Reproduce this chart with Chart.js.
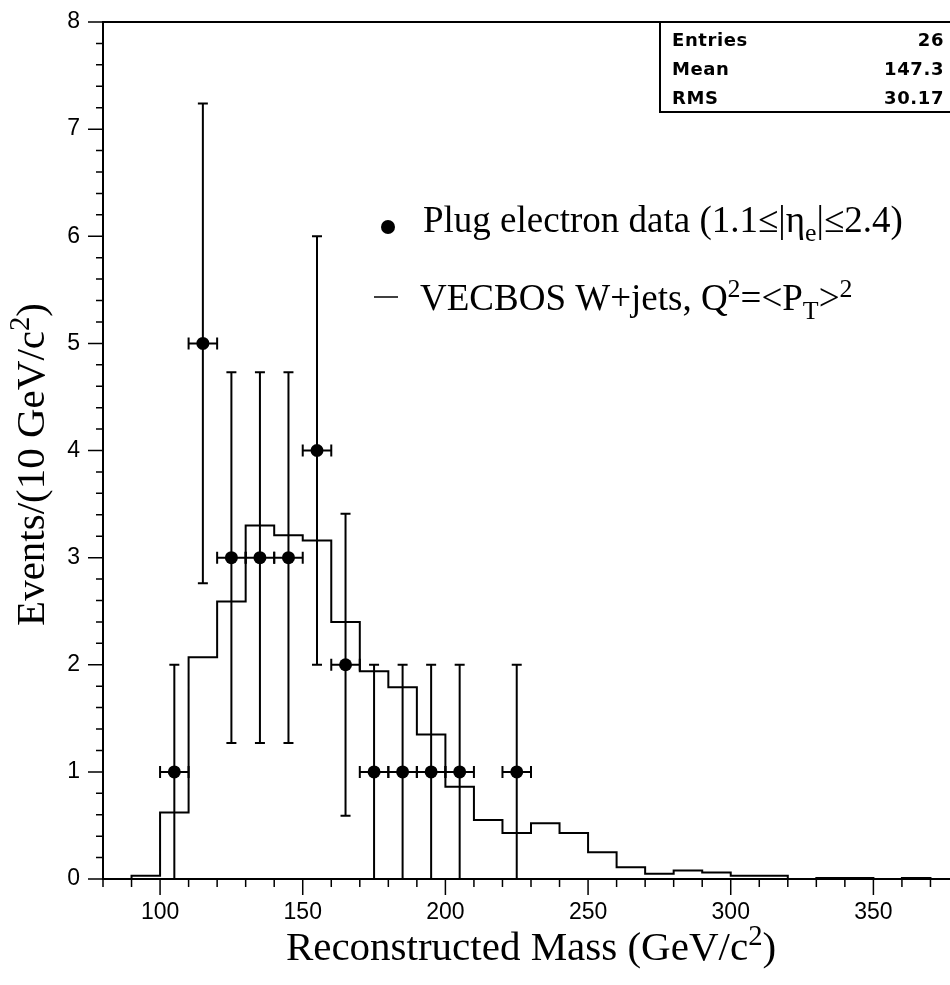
<!DOCTYPE html>
<html>
<head>
<meta charset="utf-8">
<script src="https://cdn.jsdelivr.net/npm/chart.js@4.4.1/dist/chart.umd.min.js"></script>
<style>
  html, body { margin: 0; padding: 0; overflow: hidden; background: #ffffff; }
  #c { display: block; }
</style>
</head>
<body>
<canvas id="c" width="980" height="985" style="width:980px;height:985px"></canvas>
<script>
// ---- VECBOS W+jets expectation, 10 GeV/c^2 bins (lower bin edges) ----
const binLowEdges = [80, 90, 100, 110, 120, 130, 140, 150, 160, 170,
                     180, 190, 200, 210, 220, 230, 240, 250, 260, 270,
                     280, 290, 300, 310, 320, 330, 340, 350, 360, 370];
const vecbosEvents = [0, 0.03, 0.62, 2.07, 2.59, 3.30, 3.21, 3.16, 2.40, 1.94,
                      1.79, 1.35, 0.86, 0.55, 0.43, 0.52, 0.43, 0.25, 0.11, 0.05,
                      0.08, 0.06, 0.03, 0.03, 0, 0.01, 0.01, 0, 0.01, 0];
const histUpperEdge = 380;

// ---- Plug electron data ----
const dataMass   = [105, 115, 125, 135, 145, 155, 165, 175, 185, 195, 205, 225];
const dataEvents = [1, 5, 3, 3, 3, 4, 2, 1, 1, 1, 1, 1];
const dataErr    = [1.0, 2.24, 1.73, 1.73, 1.73, 2.0, 1.41, 1.0, 1.0, 1.0, 1.0, 1.0];
const binWidth   = 10;

// ---- axes ----
const xTickValues = [100, 150, 200, 250, 300, 350];
const yTickValues = [0, 1, 2, 3, 4, 5, 6, 7, 8];
const xMinorStep = 10;
const yMinorStep = 0.2;

// ---- statistics box ----
const statNames  = ['Entries', 'Mean', 'RMS'];
const statValues = ['26', '147.3', '30.17'];

// ---- texts (segments: normal / sup / sub) ----
const xTitleParts = [['Reconstructed Mass (GeV/c', 'n'], ['2', 'sup'], [')', 'n']];
const yTitleParts = [['Events/(10 GeV/c', 'n'], ['2', 'sup'], [')', 'n']];
const legendDataParts = [['Plug electron data (1.1\u2264|\u03b7', 'n'], ['e', 'sub'], ['|\u22642.4)', 'n']];
const legendMcParts = [['VECBOS W+jets, Q', 'n'], ['2', 'sup'], ['=<P', 'n'], ['T', 'sub'], ['>', 'n'], ['2', 'sup']];

const SERIF = '"Liberation Serif", "Times New Roman", serif';
const SANS = '"DejaVu Sans", sans-serif';
const TICK_FONT = '"Liberation Sans", Arial, sans-serif';

function richWidth(ctx, parts, size) {
  let w = 0;
  for (const [t, k] of parts) {
    ctx.font = (k === 'n' ? size : size * 0.7) + 'px ' + SERIF;
    w += ctx.measureText(t).width;
  }
  return w;
}
function drawRich(ctx, parts, x, y, size) {
  let cx = x;
  ctx.textAlign = 'left';
  ctx.textBaseline = 'alphabetic';
  for (const [t, k] of parts) {
    const s = k === 'n' ? size : size * 0.7;
    const dy = k === 'sup' ? -0.36 * size : (k === 'sub' ? 0.24 * size : 0);
    ctx.font = s + 'px ' + SERIF;
    ctx.fillText(t, cx, y + dy);
    cx += ctx.measureText(t).width;
  }
}

// histogram outline points (value held across each bin)
const histPoints = binLowEdges.map((e, i) => ({ x: e, y: vecbosEvents[i] }));
histPoints.push({ x: histUpperEdge, y: vecbosEvents[vecbosEvents.length - 1] });
const dataPoints = dataMass.map((m, i) => ({ x: m, y: dataEvents[i] }));

const decorations = {
  id: 'decorations',
  afterDatasetsDraw(chart) {
    const ctx = chart.ctx, xs = chart.scales.x, ys = chart.scales.y;
    ctx.save();
    ctx.strokeStyle = '#000';
    ctx.lineWidth = 2;
    ctx.lineCap = 'butt';
    // error bars for the data points
    dataMass.forEach((m, i) => {
      const v = dataEvents[i], e = dataErr[i];
      const px = xs.getPixelForValue(m), py = ys.getPixelForValue(v);
      const yLo = ys.getPixelForValue(Math.max(v - e, 0)), yHi = ys.getPixelForValue(v + e);
      const xLo = xs.getPixelForValue(m - binWidth / 2), xHi = xs.getPixelForValue(m + binWidth / 2);
      ctx.beginPath();
      ctx.moveTo(px, yLo); ctx.lineTo(px, yHi);
      ctx.moveTo(px - 5, yHi); ctx.lineTo(px + 5, yHi);
      if (v - e > 0) { ctx.moveTo(px - 5, yLo); ctx.lineTo(px + 5, yLo); }
      ctx.moveTo(xLo, py); ctx.lineTo(xHi, py);
      ctx.moveTo(xLo, py - 6); ctx.lineTo(xLo, py + 6);
      ctx.moveTo(xHi, py - 6); ctx.lineTo(xHi, py + 6);
      ctx.stroke();
    });
    ctx.restore();
  },
  afterDraw(chart) {
    const ctx = chart.ctx, xs = chart.scales.x, ys = chart.scales.y;
    const a = chart.chartArea;
    ctx.save();
    ctx.strokeStyle = '#000';
    ctx.fillStyle = '#000';
    ctx.lineWidth = 2;
    // frame
    ctx.strokeRect(a.left, a.top, a.right - a.left, a.bottom - a.top);
    // x ticks (outside, below)
    ctx.lineWidth = 1.5;
    ctx.beginPath();
    for (let v = xs.min; v <= xs.max + 1e-6; v += xMinorStep) {
      const p = xs.getPixelForValue(v);
      const major = xTickValues.includes(Math.round(v));
      ctx.moveTo(p, a.bottom); ctx.lineTo(p, a.bottom + (major ? 16 : 8));
    }
    // y ticks (outside, left)
    for (let k = 0; ys.min + k * yMinorStep <= ys.max + 1e-6; k++) {
      const v = ys.min + k * yMinorStep;
      const p = ys.getPixelForValue(v);
      const major = Math.abs(v - Math.round(v)) < 1e-6;
      ctx.moveTo(a.left, p); ctx.lineTo(a.left - (major ? 15 : 7), p);
    }
    ctx.stroke();

    // axis titles
    const tSize = 41;
    const xw = richWidth(ctx, xTitleParts, tSize);
    drawRich(ctx, xTitleParts, (a.left + a.right) / 2 - xw / 2, 960, tSize);
    const yw = richWidth(ctx, yTitleParts, tSize);
    ctx.save();
    ctx.translate(44, 303);
    ctx.rotate(-Math.PI / 2);
    drawRich(ctx, yTitleParts, -yw, 0, tSize);
    ctx.restore();

    // statistics box
    ctx.lineWidth = 2;
    ctx.beginPath();
    ctx.moveTo(660, a.top); ctx.lineTo(660, 112); ctx.lineTo(a.right, 112);
    ctx.stroke();
    ctx.font = 'bold 18px ' + SANS;
    if ('letterSpacing' in ctx) ctx.letterSpacing = '0.6px';
    ctx.textBaseline = 'alphabetic';
    const rowBase = [46, 75, 104];
    statNames.forEach((n, i) => {
      ctx.textAlign = 'left';
      ctx.fillText(n, 672, rowBase[i]);
      ctx.textAlign = 'right';
      ctx.fillText(statValues[i], 944, rowBase[i]);
    });
    if ('letterSpacing' in ctx) ctx.letterSpacing = '0px';

    // legend
    const lSize = 37;
    ctx.beginPath();
    ctx.arc(388, 227, 7, 0, Math.PI * 2);
    ctx.fill();
    drawRich(ctx, legendDataParts, 423, 232, lSize);
    ctx.lineWidth = 1.5;
    ctx.beginPath();
    ctx.moveTo(374, 297); ctx.lineTo(398, 297);
    ctx.stroke();
    drawRich(ctx, legendMcParts, 420, 310, lSize);
    ctx.restore();
  }
};

new Chart(document.getElementById('c'), {
  type: 'scatter',
  data: {
    datasets: [
      {
        label: 'VECBOS W+jets',
        data: histPoints,
        showLine: true,
        stepped: 'before',
        borderColor: '#000',
        borderWidth: 2,
        pointRadius: 0,
        pointHoverRadius: 0,
        fill: false
      },
      {
        label: 'Plug electron data',
        data: dataPoints,
        showLine: false,
        pointRadius: 6.5,
        pointHoverRadius: 6.5,
        pointBackgroundColor: '#000',
        pointBorderColor: '#000',
        pointBorderWidth: 0
      }
    ]
  },
  options: {
    responsive: false,
    animation: false,
    devicePixelRatio: 1,
    events: [],
    layout: { padding: { left: 0, right: 21, top: 22, bottom: 0 } },
    plugins: { legend: { display: false }, tooltip: { enabled: false }, title: { display: false } },
    scales: {
      x: {
        type: 'linear',
        min: 80,
        max: 380,
        grid: { display: false, drawTicks: false },
        border: { display: false },
        afterBuildTicks: s => { s.ticks = xTickValues.map(v => ({ value: v })); },
        afterFit: s => { s.height = 106; s.paddingLeft = 0; s.paddingRight = 0; },
        ticks: {
          color: '#000',
          padding: 20,
          maxRotation: 0,
          autoSkip: false,
          font: { family: TICK_FONT, size: 23 }
        }
      },
      y: {
        type: 'linear',
        min: 0,
        max: 8,
        grid: { display: false, drawTicks: false },
        border: { display: false },
        afterBuildTicks: s => { s.ticks = yTickValues.map(v => ({ value: v })); },
        afterFit: s => { s.width = 103; s.paddingTop = 0; s.paddingBottom = 0; },
        ticks: {
          color: '#000',
          padding: 23,
          autoSkip: false,
          font: { family: TICK_FONT, size: 23 }
        }
      }
    }
  },
  plugins: [decorations]
});
</script>
</body>
</html>
